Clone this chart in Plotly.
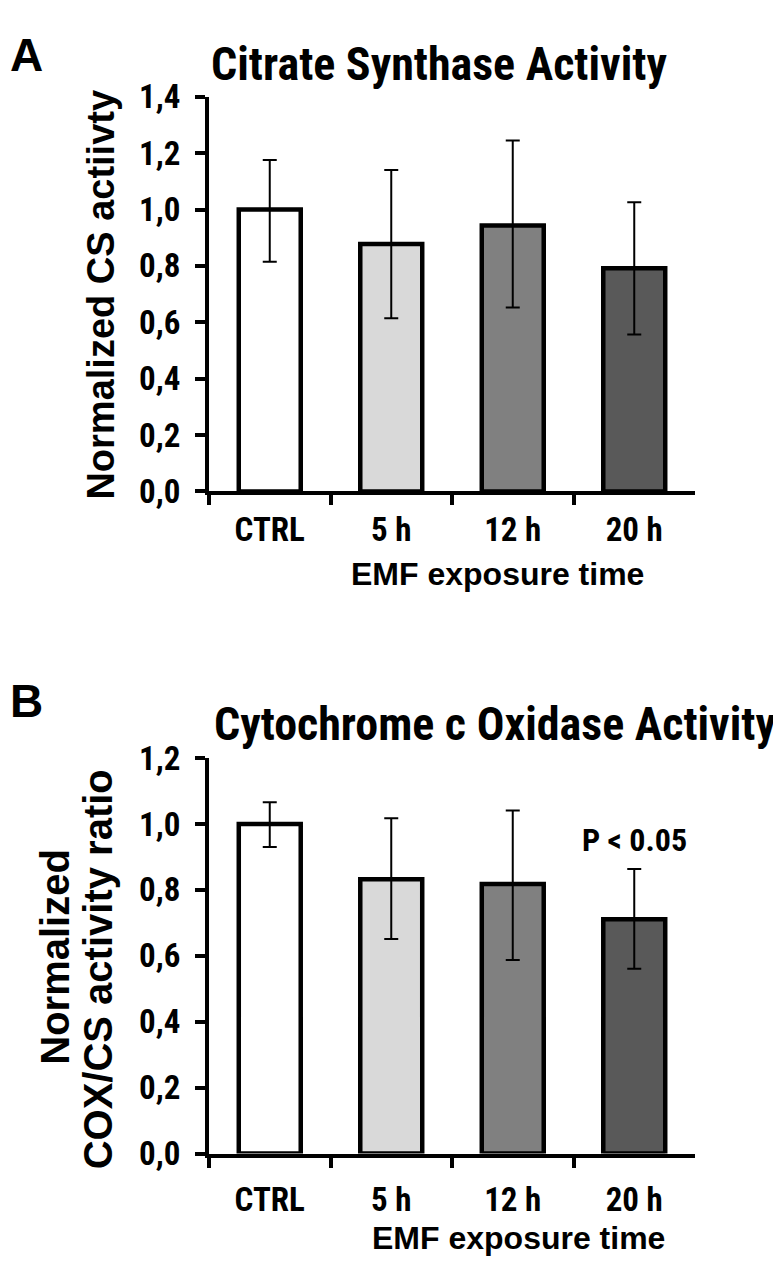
import plotly.graph_objects as go

categories = ["CTRL", "5 h", "12 h", "20 h"]
colors = ["#ffffff", "#d9d9d9", "#808080", "#595959"]

cs_values = [1.00, 0.878, 0.943, 0.792]
cs_err_plus = [0.176, 0.262, 0.302, 0.234]
cs_err_minus = [0.185, 0.264, 0.291, 0.235]

cox_values = [1.00, 0.832, 0.818, 0.711]
cox_err_plus = [0.066, 0.185, 0.223, 0.152]
cox_err_minus = [0.070, 0.181, 0.231, 0.150]

W, H = 781, 1279
OFF = 8  # default page body margin of the browser
NARROW = "Roboto Condensed, Open Sans Condensed, Liberation Sans Narrow, sans-serif"
WIDE = "Liberation Sans, Arial, sans-serif"


def px_x(p):
    return (p - OFF) / W


def px_y(p):
    return 1 - (p - OFF) / H


fig = go.Figure()
for vals, ep, em, xa, ya in [
    (cs_values, cs_err_plus, cs_err_minus, "x", "y"),
    (cox_values, cox_err_plus, cox_err_minus, "x2", "y2"),
]:
    fig.add_trace(go.Bar(
        x=categories, y=vals, xaxis=xa, yaxis=ya, width=0.51,
        marker=dict(color=colors, line=dict(color="black", width=4.5)),
        error_y=dict(type="data", array=ep, arrayminus=em, symmetric=False,
                     color="black", thickness=2, width=7),
        showlegend=False,
    ))

xdom = [px_x(209), px_x(695)]
axis_common = dict(showline=True, linecolor="black", linewidth=4, showgrid=False,
                   zeroline=False, ticks="outside", ticklen=10, tickwidth=4,
                   tickcolor="black",
                   tickfont=dict(family=NARROW, size=33, color="black", weight="bold"))

fig.update_layout(
    width=W, height=H, margin=dict(l=0, r=0, t=0, b=0),
    paper_bgcolor="white", plot_bgcolor="white",
    separators=",.",
    xaxis=dict(domain=xdom, anchor="y", tickson="boundaries", ticklabelstandoff=6,
               **axis_common),
    yaxis=dict(domain=[px_y(487), px_y(80)], anchor="x", range=[0, 1.4], dtick=0.2,
               tickformat=".1f", ticklabelstandoff=8, **axis_common),
    xaxis2=dict(domain=xdom, anchor="y2", tickson="boundaries", ticklabelstandoff=14,
                **axis_common),
    yaxis2=dict(domain=[px_y(1170), px_y(762)], anchor="x2", range=[0, 1.2], dtick=0.2,
                tickformat=".1f", ticklabelstandoff=8, **axis_common),
)

ann = []
# panel letters
ann.append(dict(text="A", x=0, y=1, xanchor="left", yanchor="top",
                font=dict(family=WIDE, size=46, color="black", weight="bold")))
ann.append(dict(text="B", x=0, y=px_y(703), xanchor="left", yanchor="middle",
                font=dict(family=WIDE, size=46, color="black", weight="bold")))
# titles
ann.append(dict(text="Citrate Synthase Activity", x=px_x(439), y=px_y(46),
                xanchor="center", yanchor="middle",
                font=dict(family=NARROW, size=46, color="black", weight="bold")))
ann.append(dict(text="Cytochrome c Oxidase Activity", x=px_x(778), y=px_y(727),
                xanchor="right", yanchor="middle",
                font=dict(family=NARROW, size=46, color="black", weight="bold")))
# y titles
ann.append(dict(text="Normalized CS actiivty", x=px_x(101), y=px_y(284), textangle=-90,
                xanchor="center", yanchor="middle",
                font=dict(family=WIDE, size=38, color="black", weight="bold")))
ann.append(dict(text="Normalized", x=px_x(55), y=px_y(967),
                textangle=-90, xanchor="center", yanchor="middle",
                font=dict(family=WIDE, size=40, color="black", weight="bold")))
ann.append(dict(text="COX/CS activity ratio", x=px_x(98), y=px_y(980),
                textangle=-90, xanchor="center", yanchor="middle",
                font=dict(family=WIDE, size=40, color="black", weight="bold")))
# x titles
ann.append(dict(text="EMF exposure time", x=px_x(497), y=px_y(572),
                xanchor="center", yanchor="middle",
                font=dict(family=WIDE, size=32, color="black", weight="bold")))
ann.append(dict(text="EMF exposure time", x=px_x(518), y=px_y(1257),
                xanchor="center", yanchor="middle",
                font=dict(family=WIDE, size=32, color="black", weight="bold")))
# significance
ann.append(dict(text="P < 0.05", x="20 h", y=0.95, xref="x2", yref="y2",
                xanchor="center", yanchor="middle",
                font=dict(family=NARROW, size=32, color="black", weight="bold")))

for a in ann:
    a.setdefault("xref", "paper")
    a.setdefault("yref", "paper")
    a["showarrow"] = False
fig.update_layout(annotations=ann)

fig.write_html("out.html")
